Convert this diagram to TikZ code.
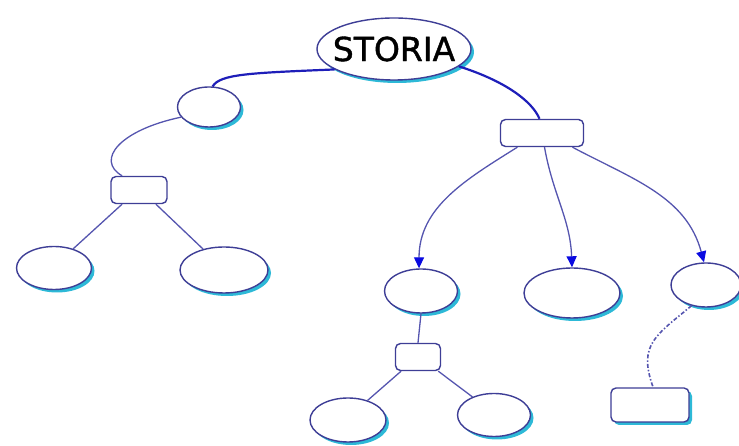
\documentclass[tikz,border=0pt]{standalone}
\usepackage{fontspec}
\newfontfamily\titlefont[FakeBold=1.2]{DejaVu Sans}
\usetikzlibrary{arrows.meta}
\usetikzlibrary{shapes.geometric}
\usetikzlibrary{shadows}

\definecolor{nodeline}{RGB}{62,62,150}
\definecolor{shadecyan}{RGB}{45,185,215}
\definecolor{mainline}{RGB}{30,30,185}
\definecolor{branchline}{RGB}{85,85,175}
\definecolor{tipblue}{RGB}{10,10,225}

\begin{document}
\begin{tikzpicture}[x=1pt,y=1pt,
    bubble/.style={ellipse,draw=nodeline,line width=1.4pt,fill=white,inner sep=0pt,
        general shadow={fill=shadecyan,shadow xshift=3pt,shadow yshift=-3pt}},
    box/.style={rectangle,rounded corners=5pt,draw=nodeline,line width=1.4pt,fill=white,inner sep=0pt},
    shaded/.style={general shadow={fill=shadecyan,shadow xshift=3pt,shadow yshift=-3pt}},
    trunk/.style={draw=mainline,line width=2.2pt},
    branch/.style={draw=branchline,line width=1.3pt},
    arrowed/.style={branch,-{Triangle[length=11pt,width=10pt,color=tipblue]}}]

    % fix the page size
    \useasboundingbox (0,0) rectangle (739,446);

    % title
    \node[bubble,inner xsep=-8pt,minimum width=154pt,minimum height=62pt] (storia) at (394,397)
        {\titlefont\fontsize{33}{33}\selectfont STORIA};

    % left branch
    \node[bubble,minimum width=63pt,minimum height=40pt] (left) at (209,339) {};
    \node[box,minimum width=56pt,minimum height=27pt] (leftbox) at (139,256) {};
    \node[bubble,minimum width=75pt,minimum height=43pt] (leftA) at (54,178) {};
    \node[bubble,minimum width=88pt,minimum height=46pt] (leftB) at (224,176) {};

    % right branch
    \node[box,minimum width=83pt,minimum height=27pt] (rightbox) at (542,313) {};
    \node[bubble,minimum width=73pt,minimum height=44pt] (midA) at (421,155) {};
    \node[bubble,minimum width=96pt,minimum height=50pt] (midB) at (572,153) {};
    \node[bubble,minimum width=70pt,minimum height=44pt] (midC) at (706,161) {};
    \node[box,minimum width=45pt,minimum height=27pt] (smallbox) at (418,89) {};
    \node[bubble,minimum width=76pt,minimum height=44pt] (lowA) at (348,26) {};
    \node[bubble,minimum width=73pt,minimum height=43pt] (lowB) at (494,31) {};
    \node[box,shaded,minimum width=78pt,minimum height=34pt] (lastbox) at (650,41) {};

    % thick links from the title
    \draw[trunk] (storia.199) .. controls (250,373) and (220,372) .. (left.80);
    \draw[trunk] (storia.-15) .. controls (505,365) and (532,345) .. (rightbox.100);

    % curved link on the left
    \draw[branch] (left.200) .. controls (120,316) and (95,286) .. (leftbox.140);

    % straight links
    \foreach \a/\b in {leftbox.-140/leftA.45, leftbox.-40/leftB.135,
                       midA.south/smallbox.north,
                       smallbox.-140/lowA.45, smallbox.-35/lowB.140}
        \draw[branch] (\a) -- (\b);

    % arrows
    \draw[arrowed] (rightbox.-150) to[out=-148,in=90] (midA.95);
    \draw[arrowed] (rightbox.-80) to[out=-80,in=92] (midB.north);
    \draw[arrowed] (rightbox.-25) to[out=-28,in=105] (midC.95);

    % dashed link
    \draw[branch,line width=1.6pt,dash pattern=on 4pt off 2pt on 1.5pt off 2pt]
        (midC.-125) to[out=-140,in=110,looseness=1.3] (lastbox.80);

\end{tikzpicture}
\end{document}
